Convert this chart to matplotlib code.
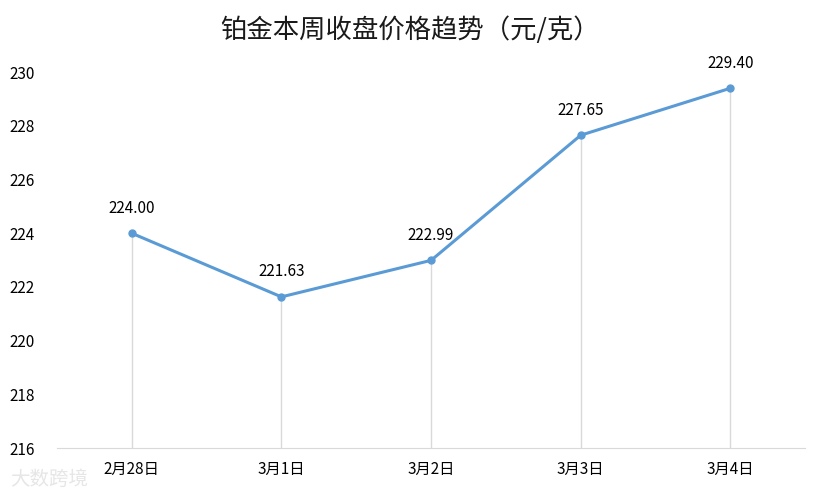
import matplotlib
matplotlib.use("Agg")
import matplotlib.pyplot as plt

plt.rcParams['font.family'] = ['Noto Sans CJK SC', 'DejaVu Sans']

dates = ["2月28日", "3月1日", "3月2日", "3月3日", "3月4日"]
prices = [224.00, 221.63, 222.99, 227.65, 229.40]
yticks = [216, 218, 220, 222, 224, 226, 228, 230]

col_line = "#5b9bd5"
col_grid = "#d9d9d9"

fig = plt.figure(figsize=(8.25, 4.94), dpi=100)
ax = fig.add_axes([0.069, 0.093, 0.907, 0.761])

x = list(range(len(dates)))
ax.vlines(x, yticks[0], prices, color=col_grid, linewidth=1, zorder=1)
ax.plot(x, prices, color=col_line, linewidth=2.2, marker="o", markersize=5, zorder=3)
for xi, p in zip(x, prices):
    ax.annotate(f"{p:.2f}", (xi, p), xytext=(0, 12), textcoords="offset points",
                ha="center", va="bottom", fontsize=11, color="#000000")

ax.set_xlim(-0.5, len(dates) - 0.5)
ax.set_ylim(yticks[0], yticks[-1])
ax.set_yticks(yticks)
ax.set_xticks(x)
ax.set_xticklabels(dates)
ax.tick_params(axis="both", length=0, labelsize=11, colors="#000000")
ax.tick_params(axis="y", pad=16)
ax.tick_params(axis="x", pad=9)
for s in ["top", "right", "left"]:
    ax.spines[s].set_visible(False)
ax.spines["bottom"].set_color(col_grid)

fig.text(0.4975, 0.938, "铂金本周收盘价格趋势（元/克）", ha="center", va="center",
         fontsize=19, color="#1a1a1a")
fig.text(0.012, 0.03, "大数跨境", fontsize=14, color="#e6e6e6", ha="left", va="center", zorder=0)

fig.savefig("out.png", dpi=100)
